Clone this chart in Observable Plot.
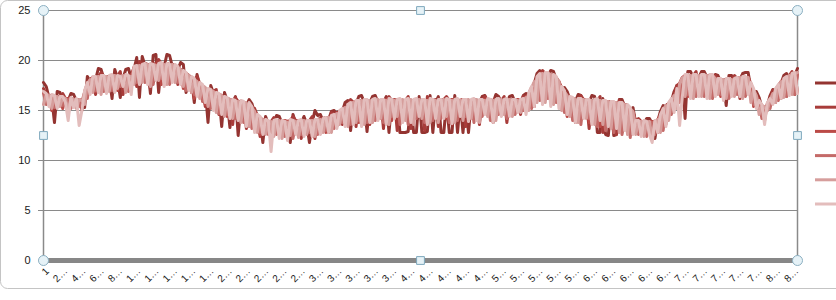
<!DOCTYPE html>
<html><head><meta charset="utf-8">
<script src="https://cdn.jsdelivr.net/npm/d3@7"></script>
<script src="https://cdn.jsdelivr.net/npm/@observablehq/plot@0.6"></script>
<style>
body{margin:0;background:#fff;}
#chart{position:relative;width:836px;height:300px;overflow:hidden;}
#chart svg{display:block;}
</style>
</head><body><div id="chart"></div>
<script>
const seriesNames = ["Series1","Series2","Series3","Series4","Series5","Series6"];
const seriesColors = ["#943431","#a83c3a","#bb4a47","#c46a68","#d69e9c","#e3bdbc"];

// one value every 3 categories (1, 4, 7, ... 826)
const s1 = [
17.8,17.4,16.3,16.3,13.8,16.9,16.8,16.1,16.0,16.0,16.7,16.6,
16.0,15.9,15.8,15.3,18.4,17.9,18.1,18.1,19.2,19.1,18.2,18.2,
18.2,16.2,19.1,18.2,16.3,18.2,19.1,19.2,18.2,19.1,20.3,16.3,
20.4,19.5,19.4,16.7,20.5,20.6,16.8,19.5,19.4,20.6,20.5,19.4,
19.3,19.1,19.8,19.6,16.8,18.3,18.1,15.8,18.6,17.5,17.3,17.1,
13.8,17.5,16.7,16.5,16.4,13.4,16.8,16.0,13.3,15.8,16.4,12.5,
15.7,15.6,15.5,16.1,15.7,14.7,14.3,14.1,11.8,14.4,13.7,13.7,
13.7,14.5,14.4,13.7,13.6,13.7,11.8,14.6,13.7,13.6,13.7,14.4,
13.7,11.8,13.8,15.0,14.5,14.6,13.9,14.0,14.1,14.9,15.0,14.5,
14.7,14.9,15.8,16.0,13.0,15.6,15.7,16.4,16.5,15.8,12.9,15.8,
16.4,16.5,15.8,15.8,15.8,16.4,12.8,15.8,15.9,15.8,12.8,12.8,
12.8,12.9,15.8,12.8,12.8,16.4,12.8,12.8,12.9,16.5,12.8,15.8,
16.4,12.8,12.8,15.8,12.8,12.8,16.5,12.8,15.8,12.8,15.8,12.8,
15.8,15.9,15.8,15.8,16.4,16.5,15.8,15.9,15.8,16.6,16.4,15.8,
15.8,15.9,16.4,16.5,15.8,15.8,15.8,16.5,16.7,16.5,17.1,17.7,
18.7,19.0,18.5,18.5,18.5,19.0,18.9,18.1,17.7,17.1,17.3,16.9,
16.1,16.0,15.9,16.6,16.5,15.9,15.8,15.8,16.5,16.4,12.8,12.8,
16.2,12.6,12.5,15.6,12.5,12.6,16.1,16.1,15.4,15.3,15.0,15.3,
13.7,13.7,13.7,13.7,14.2,14.2,13.7,12.2,13.9,14.9,15.5,15.3,
15.5,15.9,16.9,17.5,17.5,18.1,14.2,18.9,18.9,18.3,18.3,18.3,
18.9,18.9,18.3,18.3,18.3,18.6,18.5,17.9,17.9,15.5,18.5,18.5,
17.9,18.0,18.1,18.7,18.8,18.8,17.2,16.9,16.9,16.3,15.3,15.1,
15.5,16.5,17.1,16.9,17.3,17.7,18.5,18.7,18.3,18.4,18.5,19.2];

const s2 = [
17.2,16.6,16.5,16.5,15.2,16.4,16.3,16.7,16.2,14.8,16.2,16.1,
16.1,16.1,15.0,16.9,17.7,18.1,18.3,16.6,18.4,18.8,18.4,18.4,
18.4,18.4,18.5,18.4,18.9,16.6,18.5,18.4,18.4,19.3,17.4,19.9,
19.6,19.7,19.6,17.2,19.7,19.6,20.1,19.6,17.6,19.7,19.6,19.6,
19.5,17.6,19.1,18.9,18.7,18.5,16.8,18.1,18.4,17.7,17.5,15.4,
17.1,17.0,16.9,17.1,14.6,16.5,16.3,16.2,16.1,13.6,16.3,15.9,
15.9,15.8,13.2,15.7,15.3,15.2,14.5,12.4,14.1,14.0,13.9,13.9,
14.3,13.9,14.0,14.0,13.9,12.6,14.0,14.4,14.0,13.9,12.2,14.0,
14.0,14.0,14.4,12.2,14.1,14.2,14.2,14.3,12.8,14.8,14.6,14.8,
14.9,13.6,15.3,15.5,16.1,15.8,13.4,15.9,16.0,16.0,16.0,13.6,
16.0,16.1,16.0,16.0,13.2,16.1,16.4,16.0,16.1,13.0,16.0,16.0,
16.0,16.4,13.2,16.0,16.1,16.0,16.0,13.0,16.4,16.0,16.0,16.1,
13.4,16.0,16.1,16.4,16.0,13.6,16.1,16.0,16.0,16.1,13.4,16.0,
16.0,16.1,16.0,13.6,16.1,16.4,16.1,16.0,13.8,16.1,16.0,16.0,
16.4,13.8,16.0,16.1,16.0,16.0,14.6,16.4,16.3,16.7,17.3,15.4,
18.3,18.6,19.0,18.7,16.6,18.6,18.5,18.3,17.9,15.4,16.9,16.5,
16.3,16.2,13.8,16.1,16.5,16.1,16.0,13.2,16.0,16.0,16.0,16.4,
12.8,15.9,15.9,15.8,15.8,12.6,16.0,15.7,15.6,15.5,12.6,14.9,
13.9,14.2,13.9,13.0,13.9,13.9,13.9,13.9,12.8,14.5,15.1,15.5,
15.7,14.8,16.5,17.5,17.7,18.3,16.6,18.5,18.5,18.5,18.9,16.8,
18.5,18.5,18.5,18.5,16.6,18.5,18.1,18.1,18.1,16.2,18.1,18.1,
18.5,18.2,16.2,18.3,18.3,18.3,17.7,15.8,16.5,15.9,15.5,15.3,
15.0,16.1,17.0,17.1,17.5,16.2,18.1,18.3,18.5,18.9,16.6,18.8];

const s3 = [
16.8,16.6,16.5,15.0,16.4,16.4,16.3,15.2,16.2,16.2,16.2,15.4,
16.1,16.1,16.0,15.8,17.7,18.1,18.3,16.9,18.4,18.4,18.4,17.0,
18.4,18.4,18.5,17.0,18.4,18.4,18.5,17.2,18.4,19.3,19.4,17.8,
19.6,19.6,19.6,17.8,19.6,19.6,19.5,17.6,19.6,19.6,19.6,18.0,
19.5,19.3,19.1,17.2,18.7,18.5,18.3,16.2,17.9,17.7,17.5,15.6,
17.1,17.0,16.9,15.0,16.6,16.5,16.3,14.4,16.1,16.0,15.9,14.2,
15.9,15.8,15.7,13.4,15.3,14.9,14.5,12.6,14.1,14.0,13.9,12.6,
13.9,14.0,13.9,12.4,14.0,13.9,14.0,12.8,13.9,14.0,13.9,13.4,
13.9,13.9,14.0,12.8,14.0,14.1,14.1,12.8,14.3,14.4,14.5,13.4,
14.9,15.1,15.3,13.6,15.7,15.8,15.9,13.8,16.0,16.0,16.0,14.0,
16.0,16.1,16.0,14.2,16.0,16.1,16.0,14.0,16.0,16.1,16.0,14.4,
16.0,16.1,16.0,14.4,16.0,16.1,16.0,14.0,16.0,16.1,16.0,14.2,
16.0,16.1,16.0,14.2,16.0,16.1,16.0,14.6,16.0,16.1,16.0,14.0,
16.0,16.1,16.0,14.2,16.0,16.1,16.0,14.4,16.0,16.1,16.0,14.6,
16.0,16.1,16.0,14.6,16.0,16.1,16.0,15.2,16.3,16.7,17.3,15.8,
18.3,18.6,18.7,16.4,18.7,18.6,18.5,16.0,17.9,17.3,16.9,14.4,
16.3,16.2,16.1,14.0,16.1,16.1,16.0,13.8,16.0,16.0,16.0,13.4,
15.9,15.9,15.9,13.4,15.8,15.8,15.7,12.8,15.6,15.5,15.2,12.8,
13.9,13.9,13.9,12.6,13.9,13.9,13.9,12.8,14.1,14.5,15.1,13.6,
15.7,16.1,16.5,15.4,17.7,18.3,18.5,16.4,18.5,18.5,18.5,16.6,
18.5,18.5,18.5,16.6,18.5,18.2,18.1,16.4,18.1,18.1,18.1,16.6,
18.1,18.2,18.3,16.6,18.3,18.3,17.7,15.4,16.5,15.9,15.5,14.0,
15.7,16.1,16.7,15.8,17.5,17.9,18.1,16.4,18.5,18.6,18.7,16.8];

const s4 = [
16.7,15.6,16.4,16.4,15.3,16.3,16.2,15.5,16.1,16.1,15.2,16.0,
16.0,15.4,15.9,16.8,16.2,18.0,18.2,17.0,18.3,18.3,16.9,18.3,
18.3,17.0,18.3,18.4,17.4,18.3,18.4,16.9,18.3,19.2,17.8,19.4,
19.5,17.8,19.5,19.5,17.6,19.4,19.5,18.2,19.5,19.5,17.6,19.4,
19.4,17.8,19.0,18.8,17.0,18.4,18.2,16.6,17.8,17.6,15.9,17.2,
17.0,15.2,16.8,16.6,14.7,16.4,16.2,14.6,16.0,15.9,14.2,15.8,
15.8,13.8,15.6,15.6,13.2,14.8,14.4,12.8,14.0,13.9,12.6,13.8,
13.8,12.6,13.8,13.9,12.4,13.8,13.7,12.2,13.8,13.9,12.6,13.8,
13.8,12.8,13.9,13.9,12.6,14.0,14.0,13.0,14.2,14.3,13.2,14.6,
14.8,13.8,15.2,15.4,13.6,15.7,15.8,14.0,15.9,15.9,13.8,15.9,
15.9,14.0,15.9,16.0,13.8,15.9,15.9,14.4,16.0,15.9,13.6,15.9,
15.9,13.6,15.9,16.0,14.2,15.9,15.9,13.8,16.0,15.9,14.0,15.9,
15.9,14.2,15.9,16.0,13.8,15.9,15.9,14.0,16.0,15.9,14.4,15.9,
15.9,13.8,15.9,16.0,14.4,15.9,15.9,14.0,16.0,15.9,14.6,15.9,
15.9,14.2,15.9,16.0,14.6,15.9,15.9,15.0,16.2,16.6,15.2,17.8,
18.2,16.0,18.6,18.6,16.2,18.5,18.4,15.8,17.8,17.2,14.8,16.4,
16.2,14.0,16.0,16.0,13.6,16.0,15.9,14.2,15.9,15.9,13.4,15.9,
15.8,13.0,15.8,15.7,12.8,15.7,15.6,12.6,15.5,15.4,12.3,14.8,
13.8,12.6,13.8,13.8,12.4,13.8,13.8,12.6,14.0,14.4,13.0,15.4,
15.6,14.6,16.4,17.0,15.8,18.2,18.4,16.6,18.4,18.4,16.4,18.4,
18.4,16.4,18.4,18.4,16.2,18.1,18.0,16.6,18.0,18.0,16.2,18.0,
18.0,16.6,18.2,18.2,16.4,18.2,17.6,15.6,16.4,15.8,14.2,15.2,
15.6,15.2,16.6,17.0,16.0,17.8,18.0,16.4,18.4,18.5,16.6,18.7];

const s5 = [
15.6,16.6,16.5,15.2,16.4,16.4,15.4,16.3,16.2,15.0,16.2,16.1,
15.2,16.1,16.0,15.6,17.7,18.1,16.8,18.3,18.4,16.6,18.4,18.4,
16.9,18.4,18.5,17.2,18.4,18.5,16.8,18.4,18.4,17.6,19.4,19.5,
17.8,19.6,19.6,17.4,19.6,19.5,18.0,19.6,19.6,17.6,19.5,19.6,
17.8,19.3,19.1,17.4,18.7,18.5,16.8,18.1,17.9,16.2,17.5,17.3,
15.4,17.0,16.9,14.8,16.6,16.5,14.4,16.2,16.1,14.2,15.9,15.9,
13.8,15.8,15.7,13.4,15.3,14.9,12.8,14.3,14.1,12.6,13.9,13.9,
12.4,13.9,14.0,12.2,13.9,13.8,12.5,14.0,13.9,12.3,13.9,14.0,
12.6,13.9,14.0,12.4,14.0,14.1,12.8,14.2,14.3,12.8,14.5,14.7,
13.6,15.1,15.3,13.4,15.7,15.8,13.8,15.9,16.0,13.6,16.0,16.0,
13.8,16.0,16.1,14.2,16.0,16.0,13.6,16.1,16.0,14.4,16.0,16.1,
14.0,16.0,16.1,13.6,16.0,16.1,14.2,16.0,16.0,13.8,16.1,16.0,
13.8,16.0,16.1,14.4,16.0,16.0,13.8,16.1,16.0,14.0,16.0,16.1,
14.2,16.0,16.1,13.8,16.0,16.0,14.4,16.1,16.0,14.0,16.0,16.1,
14.6,16.0,16.1,14.4,16.0,16.0,14.8,16.1,16.3,15.0,17.3,17.9,
15.8,18.6,18.7,15.8,18.7,18.6,15.6,18.3,17.9,15.0,16.9,16.5,
14.4,16.2,16.1,13.8,16.1,16.1,14.2,16.0,16.0,13.6,16.0,16.0,
13.6,15.9,15.9,13.2,15.8,15.8,12.8,15.7,15.6,12.6,15.2,14.9,
12.6,13.9,13.9,12.4,13.8,13.9,12.2,13.9,14.1,12.8,15.1,15.5,
14.0,16.1,16.5,15.2,17.7,18.3,16.4,18.5,18.5,16.2,18.5,18.5,
16.4,18.5,18.5,16.2,18.5,18.2,16.6,18.1,18.1,16.2,18.1,18.1,
16.4,18.2,18.3,16.2,18.3,18.3,15.8,17.1,16.5,14.6,15.5,15.3,
15.0,16.1,16.7,15.8,17.5,17.9,16.3,18.3,18.5,16.6,18.7,18.8];

const s6 = [
16.9,16.7,15.4,16.6,16.5,15.2,16.4,16.4,15.8,14.0,16.3,15.3,
16.2,13.5,15.0,17.0,17.8,16.6,18.4,18.4,16.8,18.5,18.5,16.7,
18.5,18.6,16.8,18.5,18.4,17.4,18.6,18.5,16.6,19.4,19.5,17.6,
19.6,19.7,17.6,19.7,19.6,18.0,19.7,19.8,17.4,19.7,19.6,17.8,
19.6,19.4,17.6,19.0,18.8,17.0,18.4,18.2,16.4,17.8,17.6,15.8,
17.2,17.1,15.0,16.8,16.7,14.6,16.4,16.3,14.2,16.1,16.0,14.0,
16.0,15.9,13.4,15.8,15.4,12.8,14.6,14.4,12.6,14.1,14.0,10.9,
14.0,14.1,12.2,14.0,13.9,12.0,14.1,14.0,12.6,14.0,14.1,12.4,
14.0,14.0,12.4,14.1,14.1,12.6,14.2,14.3,12.8,14.5,14.6,13.2,
15.0,15.2,13.4,15.6,15.8,13.6,16.0,16.0,13.4,16.1,16.1,13.8,
16.1,16.2,14.0,16.1,16.1,13.6,16.2,16.1,14.2,16.1,16.2,13.8,
16.1,16.2,13.8,16.1,16.2,14.4,16.1,16.1,13.6,16.2,16.1,14.2,
16.1,16.1,14.2,16.2,16.1,13.7,16.1,16.2,14.4,16.1,16.1,13.9,
16.1,16.2,14.0,16.1,16.1,14.6,16.2,16.1,13.8,16.1,16.2,14.4,
16.1,16.2,14.4,16.1,16.1,14.8,16.1,16.2,14.6,16.8,17.4,15.4,
18.4,18.7,15.6,18.8,18.8,15.4,18.6,18.4,15.2,17.4,17.0,14.6,
16.4,16.3,13.8,16.2,16.2,14.2,16.1,16.1,13.6,16.1,16.2,14.0,
16.0,16.0,13.4,15.9,15.9,13.2,15.8,15.8,13.0,15.6,15.3,12.6,
14.0,14.0,12.4,14.0,13.9,12.6,11.8,14.0,12.8,14.6,15.2,13.4,
15.8,16.2,14.8,17.2,13.5,16.4,18.6,18.6,16.2,18.6,18.6,16.4,
18.6,18.6,16.2,18.6,18.6,16.4,18.2,18.2,16.0,18.2,18.2,16.4,
18.2,18.3,16.4,18.4,18.4,16.6,17.8,17.2,15.2,16.0,15.6,13.6,
15.8,16.2,15.6,17.2,17.6,16.2,18.2,18.4,16.5,18.7,18.8,16.7];

const seriesValues = [s1, s2, s3, s4, s5, s6];
const categories = d3.range(1, 827, 3); // category numbers 1, 4, 7, ... 826
const tickValues = [1,21,41,61,81,101,121,141,161,181,201,221,241,261,281,301,321,341,361,381,
  401,421,441,461,481,501,521,541,561,581,601,621,641,661,681,701,721,741,761,781,801,821];
const tickLabels = ["1","2…","4…","6…","8…","1…","1…","1…","1…","1…","2…","2…","2…","2…","2…",
  "3…","3…","3…","3…","3…","4…","4…","4…","4…","4…","5…","5…","5…","5…","5…",
  "6…","6…","6…","6…","6…","7…","7…","7…","7…","7…","8…","8…"];
const yTicks = [0,5,10,15,20,25];

const xDomain = [1, 826];
const yDomain = [0, 25];
const xMid = (xDomain[0] + xDomain[1]) / 2;
const yMid = (yDomain[0] + yDomain[1]) / 2;
const roundHandles = [[xDomain[0], yDomain[1]], [xDomain[1], yDomain[1]], [xDomain[0], yDomain[0]], [xDomain[1], yDomain[0]]];
const squareHandles = [[xMid, yDomain[1]], [xDomain[0], yMid], [xDomain[1], yMid], [xMid, yDomain[0]]];

const labelOf = new Map(tickValues.map((v, i) => [v, tickLabels[i]]));

const lineMarks = seriesValues.map((vals, k) =>
  Plot.lineY(vals.map((v, i) => ({x: categories[i], y: v})), {
    x: "x", y: "y", stroke: seriesColors[k], strokeWidth: 3,
    strokeLinejoin: "round", strokeLinecap: "round", curve: "linear"
  })
);

const chart = Plot.plot({
  width: 836,
  height: 300,
  marginLeft: 43,
  marginRight: 39,
  marginTop: 10,
  marginBottom: 40,
  style: {fontFamily: "'Liberation Sans', Arial, sans-serif", fontSize: "11px", color: "#1a1a1a", background: "transparent"},
  x: {type: "linear", domain: xDomain},
  y: {domain: yDomain},
  marks: [
    Plot.ruleY(yTicks.filter(d => d > 0), {stroke: "#8a8a8a", strokeWidth: 1}),
    Plot.ruleX([xDomain[1]], {stroke: "#8a8a8a", strokeWidth: 1.5}),
    Plot.ruleX([xDomain[0]], {stroke: "#8a8a8a", strokeWidth: 1.5}),
    ...lineMarks,
    Plot.ruleY([0], {stroke: "#878787", strokeWidth: 5}),
    Plot.axisY({ticks: yTicks, tickSize: 5, tickPadding: 8, stroke: "#8a8a8a", fill: "#1a1a1a", fontSize: 11, label: null}),
    Plot.axisX({ticks: tickValues, tickFormat: d => labelOf.get(d), tickRotate: -45, tickSize: 0,
      tickPadding: 9, dx: 4, fill: "#1a1a1a", fontSize: 10, label: null}),
    Plot.dot(roundHandles, {x: d => d[0], y: d => d[1], r: 5, fill: "#e6f2f7", stroke: "#8cb0c2", strokeWidth: 1, clip: false}),
    Plot.dot(squareHandles, {x: d => d[0], y: d => d[1], r: 4.4, symbol: "square", fill: "#e6f2f7", stroke: "#7fa8bd", strokeWidth: 1, clip: false})
  ]
});

const svg = d3.select(chart);
// chart area border
svg.insert("rect", ":first-child")
  .attr("x", 0.5).attr("y", 0.5).attr("width", 900).attr("height", 288).attr("rx", 7)
  .attr("fill", "none").attr("stroke", "#c4c4c4");
// legend keys (their text is cut off by the window edge)
const legendTop = 83, legendStep = 24.2;
seriesColors.forEach((c, k) => {
  svg.append("line")
    .attr("x1", 815).attr("x2", 845)
    .attr("y1", legendTop + k * legendStep).attr("y2", legendTop + k * legendStep)
    .attr("stroke", c).attr("stroke-width", 3);
});
document.getElementById("chart").appendChild(chart);
</script>
</body></html>
